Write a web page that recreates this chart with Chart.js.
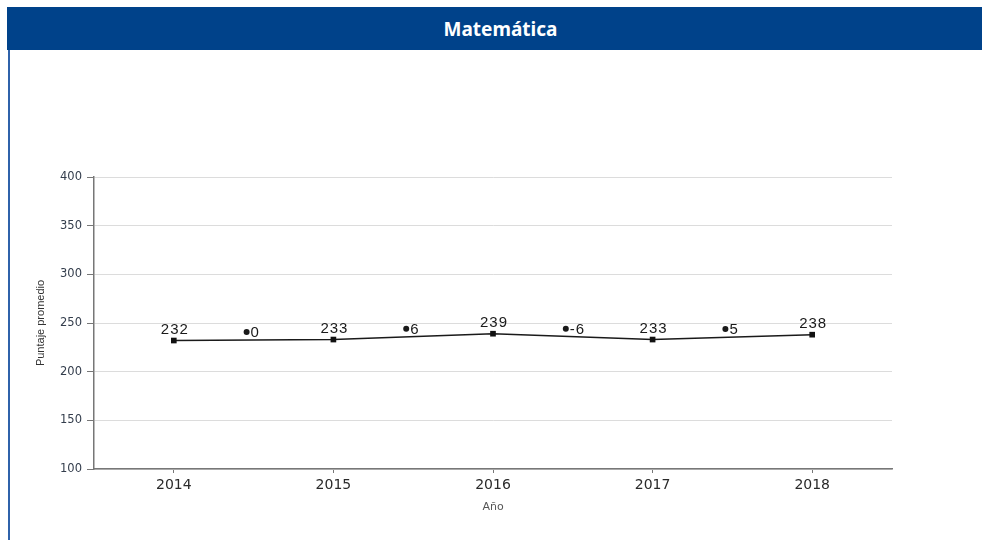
<!DOCTYPE html>
<html>
<head>
<meta charset="utf-8">
<script src="https://cdn.jsdelivr.net/npm/chart.js@4.4.0/dist/chart.umd.min.js"></script>
<style>
  html, body { margin: 0; padding: 0; background: #fff; }
  body { width: 982px; height: 540px; position: relative; overflow: hidden; }
  #header {
    position: absolute; left: 7px; top: 7px; width: 975px; height: 43px;
    background: #00428a; color: #fff;
    font: bold 19px "Noto Sans", "Open Sans", sans-serif;
    display: flex; align-items: center; justify-content: center;
    padding-left: 12px; box-sizing: border-box;
  }
  #leftBorder {
    position: absolute; left: 8px; top: 50px; width: 2px; height: 490px;
    background: #2f62aa;
  }
  #chartBox { position: absolute; left: 0; top: 50px; width: 982px; height: 490px; }
</style>
</head>
<body>
<div id="header">Matemática</div>
<div id="leftBorder"></div>
<div id="chartBox"><canvas id="mathChart"></canvas></div>
<script>
const years = ["2014", "2015", "2016", "2017", "2018"];
const averageScores = [232, 233, 239, 233, 238];
const differences = [0, 6, -6, 5];

const labelsPlugin = {
  id: "labelsPlugin",
  afterDatasetsDraw(chart) {
    const { ctx } = chart;
    const points = chart.getDatasetMeta(0).data;

    ctx.save();
    ctx.fillStyle = "#1a1a1a";
    ctx.font = "15px 'Liberation Sans', Arial, sans-serif";
    ctx.letterSpacing = "1px";
    ctx.textAlign = "center";
    ctx.textBaseline = "middle";
    points.forEach((point, index) => {
      ctx.fillText(String(averageScores[index]), point.x + 1, point.y - 11);
    });

    ctx.textAlign = "left";
    differences.forEach((diff, index) => {
      const a = points[index];
      const b = points[index + 1];
      const midX = (a.x + b.x) / 2;
      const midY = (a.y + b.y) / 2 - 8;
      ctx.beginPath();
      ctx.arc(midX - 7, midY, 3, 0, Math.PI * 2);
      ctx.fill();
      ctx.fillText(String(diff), midX - 3, midY + 1);
    });
    ctx.restore();
  },
};

function createMathChart() {
  const canvas = document.getElementById("mathChart");
  if (!canvas) {
    return;
  }

  new Chart(canvas, {
    type: "line",
    data: {
      labels: years,
      datasets: [
        {
          label: "Puntaje promedio",
          data: averageScores,
          borderColor: "#1a1a1a",
          borderWidth: 1.4,
          pointStyle: "rect",
          pointRadius: 4,
          pointBackgroundColor: "#111",
          pointBorderColor: "#111",
          pointBorderWidth: 0,
          tension: 0,
        },
      ],
    },
    options: {
      responsive: true,
      maintainAspectRatio: false,
      animation: false,
      layout: { padding: { left: 30, top: 127, right: 90, bottom: 26 } },
      scales: {
        x: {
          offset: true,
          grid: {
            display: true,
            offset: false,
            drawOnChartArea: false,
            drawTicks: true,
            tickLength: 4,
            color: "#777",
          },
          border: { color: "#777", width: 1.5 },
          ticks: {
            color: "#2a2a2a",
            padding: 4,
            font: { family: "'DejaVu Sans', sans-serif", size: 14 },
          },
          title: {
            display: true,
            text: "Año",
            color: "#555",
            padding: { top: 4, bottom: 0 },
            font: { family: "'DejaVu Sans', sans-serif", size: 11 },
          },
          afterFit(scale) {
            scale.height = 45;
          },
        },
        y: {
          min: 100,
          max: 400,
          ticks: {
            stepSize: 50,
            color: "#333d4c",
            padding: 5,
            font: { family: "'DejaVu Sans', sans-serif", size: 11.5 },
          },
          grid: {
            color: "#dcdcdc",
            tickColor: "#777",
            tickLength: 7,
            lineWidth: 1,
          },
          border: { color: "#777", width: 1.5 },
          title: {
            display: true,
            text: "Puntaje promedio",
            color: "#333",
            padding: { top: 4, bottom: 4 },
            font: { family: "'Liberation Sans', Arial, sans-serif", size: 11 },
          },
          afterFit(scale) {
            scale.width = 64;
          },
        },
      },
      plugins: {
        legend: { display: false },
        tooltip: { enabled: false },
      },
    },
    plugins: [labelsPlugin],
  });
}

window.addEventListener("DOMContentLoaded", () => {
  createMathChart();
});
</script>
</body>
</html>
